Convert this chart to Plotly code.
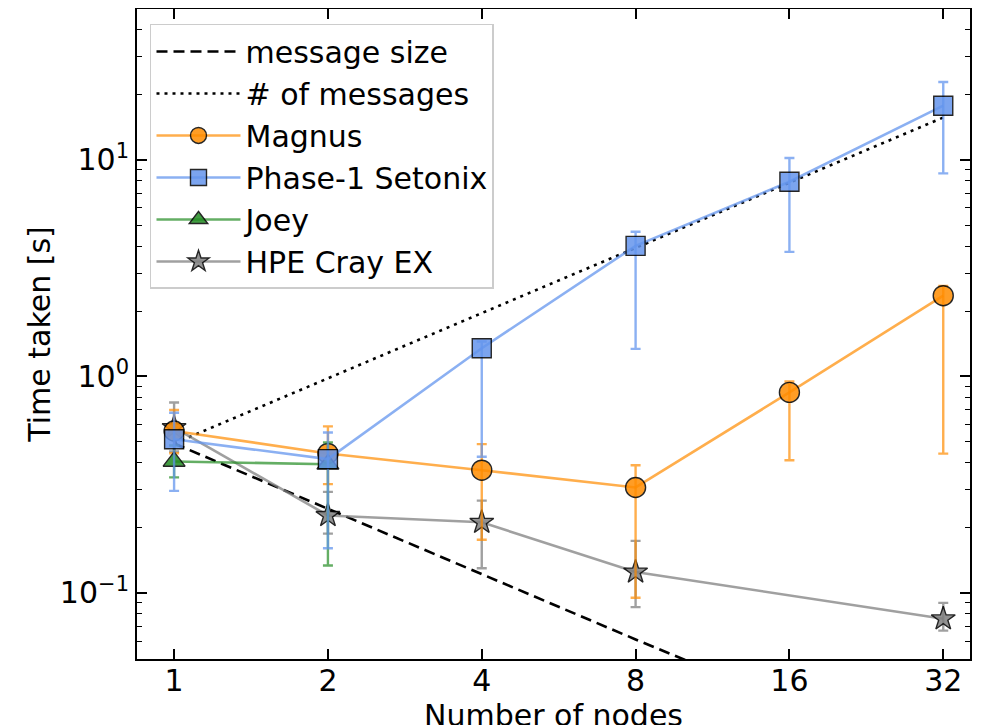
import plotly.graph_objects as go

nodes = [1, 2, 4, 8, 16, 32]

# reference scaling lines
msg_size = [0.49, 0.245, 0.1225, 0.061, 0.031, 0.0153]
num_msgs = [0.49, 0.98, 1.96, 3.92, 7.84, 15.7]

magnus = [0.56, 0.441, 0.369, 0.307, 0.844, 2.36]
magnus_up = [0.70, 0.588, 0.487, 0.389, 0.948, 2.62]
magnus_lo = [0.442, 0.318, 0.176, 0.095, 0.41, 0.44]

setonix = [0.513, 0.415, 1.35, 4.01, 7.93, 17.8]
setonix_up = [0.68, 0.551, 1.45, 4.66, 10.2, 22.9]
setonix_lo = [0.296, 0.161, 0.426, 1.34, 3.76, 8.67]

joey_x = [1, 2]
joey = [0.405, 0.393]
joey_up = [0.48, 0.496]
joey_lo = [0.342, 0.134]

hpe_x = [1, 2, 4, 8, 32]
hpe = [0.58, 0.228, 0.212, 0.125, 0.076]
hpe_up = [0.758, 0.293, 0.267, 0.174, 0.09]
hpe_lo = [0.45, 0.188, 0.13, 0.086, 0.067]

FONT = "DejaVu Sans"
FS = 30

def err(vals, up, lo):
    return dict(type="data", symmetric=False,
                array=[u - v for u, v in zip(up, vals)],
                arrayminus=[v - l for v, l in zip(vals, lo)])

fig = go.Figure()

fig.add_trace(go.Scatter(x=nodes, y=msg_size, mode="lines", name="message size",
                         line=dict(color="black", width=2.6, dash="11px,6px"), legendrank=1))
fig.add_trace(go.Scatter(x=nodes, y=num_msgs, mode="lines", name="# of messages",
                         line=dict(color="black", width=2.6, dash="3px,5px"), legendrank=2))

def series(x, y, up, lo, name, color, rgba, symbol, size, rank):
    e = err(y, up, lo)
    e.update(color=rgba, thickness=2.4, width=5)
    fig.add_trace(go.Scatter(
        x=x, y=y, mode="lines+markers", name=name,
        line=dict(color=rgba, width=2.6),
        marker=dict(symbol=symbol, size=size, color=color, opacity=0.85,
                    line=dict(color="black", width=1.4)),
        error_y=e, legendrank=rank))

series(hpe_x, hpe, hpe_up, hpe_lo, "HPE Cray EX", "#808080", "rgba(128,128,128,0.75)", "star", 18, 6)
series(nodes, magnus, magnus_up, magnus_lo, "Magnus", "#FF8C00", "rgba(255,140,0,0.7)", "circle", 20, 3)
series(joey_x, joey, joey_up, joey_lo, "Joey", "#228B22", "rgba(34,139,34,0.7)", "triangle-up", 19, 5)
series(nodes, setonix, setonix_up, setonix_lo, "Phase-1 Setonix", "#6495ED", "rgba(100,149,237,0.75)", "square", 19, 4)

minor_y = [0.05, 0.06, 0.07, 0.08, 0.09, 0.2, 0.3, 0.4, 0.5, 0.6, 0.7, 0.8, 0.9,
           2, 3, 4, 5, 6, 7, 8, 9, 20, 30, 40]

axis_common = dict(showline=True, linecolor="black", linewidth=2, mirror="ticks",
                   ticks="inside", ticklen=10, tickwidth=2, tickcolor="black",
                   showgrid=False, zeroline=False, automargin=False,
                   tickfont=dict(family=FONT, size=FS, color="black"))

fig.update_xaxes(type="log", range=[-0.0726, 1.5575],
                 tickvals=nodes, ticktext=[str(n) for n in nodes],
                 ticklabelstandoff=-6,
                 title=dict(text="Number of nodes", font=dict(family=FONT, size=FS, color="black"), standoff=10),
                 **axis_common)
fig.update_yaxes(type="log", range=[-1.305, 1.697],
                 tickvals=[0.1, 1, 10],
                 ticktext=["10<sup>\u22121</sup>", "10<sup>0</sup>", "10<sup>1</sup>"],
                 minor=dict(tickvals=minor_y, ticks="inside", ticklen=5, tickwidth=1.2,
                            tickcolor="black", showgrid=False),
                 title=dict(text="Time taken [s]", font=dict(family=FONT, size=FS, color="black"), standoff=0),
                 **axis_common)

# page has an 8px body margin: figure is offset by (8, 8) in the window
fig.update_layout(
    width=978, height=725,
    margin=dict(l=129, r=16, t=1, b=74),
    paper_bgcolor="white", plot_bgcolor="white",
    font=dict(family=FONT, size=FS, color="black"),
    legend=dict(x=0.0156, y=0.977, xanchor="left", yanchor="top",
                bgcolor="rgba(255,255,255,0.8)", bordercolor="#cccccc", borderwidth=1.5,
                font=dict(family=FONT, size=FS, color="black"),
                tracegroupgap=0, itemwidth=84),
)

fig.write_html("out.html")
